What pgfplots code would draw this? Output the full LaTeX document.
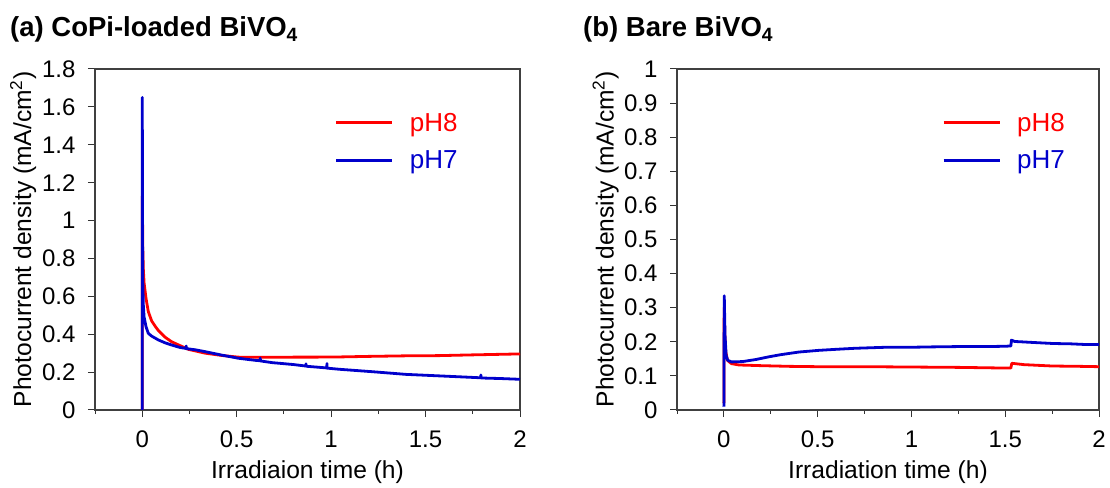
\documentclass[border=0pt]{standalone}
\usepackage{fontspec}
\setmainfont{Liberation Sans}
\usepackage{pgfplots}
\pgfplotsset{compat=1.18}
\definecolor{cred}{RGB}{255,0,0}
\definecolor{cblue}{RGB}{0,0,204}
\pgfplotsset{
  common/.style={
    scale only axis, anchor=south west,
    xmin=-0.25, xmax=2, ymin=0,
    xtick={0,0.5,1,1.5,2},
    xticklabels={0,0.5,1,1.5,2},
    minor xtick={-0.25,0.25,0.75,1.25,1.75},
    tick align=outside, tick pos=left,
    major tick length=7pt, minor tick length=4pt,
    every tick/.style={black!80, line width=1pt},
    axis line style={black!75, line width=1.3pt},
    tick label style={font=\fontsize{24}{28}\selectfont},
    xticklabel style={yshift=-10pt},
    yticklabel style={xshift=-9pt},
    label style={font=\fontsize{24.6}{29}\selectfont},
    /pgf/number format/assume math mode=true,
    xlabel style={at={(axis description cs:0.5,-0.182)}, anchor=center},
    ylabel style={at={(axis description cs:-0.169,0.5)}, anchor=center},
    ylabel={Photocurrent density (mA/cm\textsuperscript{2})},
    legend style={draw=none, fill=none, inner sep=0pt, anchor=north west,
      font=\fontsize{26}{30}\selectfont, row sep=14pt,
      nodes={inner sep=2pt},
      /tikz/every odd column/.append style={column sep=14pt}},
    legend cell align=left,
    legend image code/.code={\draw[#1, line width=3pt] (0pt,0pt) -- (56pt,0pt);},
  },
  cr/.style={draw=cred, line width=2.8pt, line join=round},
  cb/.style={draw=cblue, line width=2.8pt, line join=round},
}
\begin{document}
\begin{tikzpicture}
\useasboundingbox (0,0) rectangle (1110pt,487pt);
\node[anchor=base west, inner sep=0pt, font=\fontsize{27.5}{32}\selectfont\bfseries] at (10pt,450pt) {(a) CoPi-loaded BiVO\textsubscript{4}};
\node[anchor=base west, inner sep=0pt, font=\fontsize{27.5}{32}\selectfont\bfseries] at (583pt,450pt) {(b) Bare BiVO\textsubscript{4}};
\begin{axis}[common, at={(95pt,77pt)}, width=425pt, height=341pt,
  ymax=1.8, ytick={0,0.2,0.4,0.6,0.8,1,1.2,1.4,1.6,1.8},
  yticklabels={0,0.2,0.4,0.6,0.8,1,1.2,1.4,1.6,1.8},
  xlabel={Irradiaion time (h)},
  legend style={at={(axis description cs:0.564,0.877)}}]
\addplot[cr] coordinates {
(0,0) (0.0008,1.13) (0.003,0.85) (0.006,0.74) (0.01,0.67) (0.02,0.59)
(0.032,0.52) (0.05,0.47) (0.07,0.44) (0.085,0.42) (0.12,0.385) (0.156,0.36)
(0.2,0.34) (0.245,0.32) (0.333,0.30) (0.42,0.288) (0.51,0.279) (0.6,0.278)
(0.7,0.278) (0.8,0.279) (0.9,0.279) (1.04,0.28) (1.2,0.283) (1.4,0.286)
(1.57,0.287) (1.75,0.291) (1.9,0.294) (2.0,0.296)};
\addlegendentry{\textcolor{cred}{pH8}}
\addplot[cb] coordinates {
(0,0) (0.0004,1.65) (0.0015,0.95) (0.003,0.68) (0.006,0.55) (0.01,0.49)
(0.02,0.44) (0.032,0.405) (0.05,0.39) (0.085,0.37) (0.12,0.355) (0.156,0.343)
(0.2,0.33) (0.232,0.325) (0.233,0.338) (0.234,0.324) (0.28,0.318) (0.333,0.308)
(0.42,0.29) (0.51,0.273) (0.6,0.262) (0.624,0.26) (0.625,0.274) (0.626,0.259)
(0.688,0.25) (0.8,0.24) (0.866,0.232) (0.867,0.244) (0.868,0.231)
(0.977,0.222) (0.978,0.245) (0.979,0.221) (1.043,0.215) (1.22,0.202)
(1.397,0.188) (1.574,0.18) (1.75,0.172) (1.792,0.17) (1.793,0.185) (1.794,0.169)
(1.9,0.166) (2.0,0.162)};
\addlegendentry{\textcolor{cblue}{pH7}}
\end{axis}
\begin{axis}[common, at={(677pt,77pt)}, width=422pt, height=341pt,
  ymax=1, ytick={0,0.1,0.2,0.3,0.4,0.5,0.6,0.7,0.8,0.9,1},
  yticklabels={0,0.1,0.2,0.3,0.4,0.5,0.6,0.7,0.8,0.9,1},
  xlabel={Irradiation time (h)},
  legend style={at={(axis description cs:0.628,0.877)}}]
\addplot[cr] coordinates {
(0,0.02) (0.0015,0.30) (0.005,0.22) (0.01,0.17) (0.02,0.145) (0.04,0.136)
(0.08,0.132) (0.2,0.13) (0.35,0.128) (0.5,0.127) (0.75,0.127) (1.0,0.126)
(1.25,0.125) (1.5,0.123) (1.53,0.123) (1.535,0.137) (1.6,0.133) (1.75,0.129)
(1.9,0.128) (2.0,0.127)};
\addlegendentry{\textcolor{cred}{pH8}}
\addplot[cb] coordinates {
(0,0.01) (0.002,0.335) (0.006,0.22) (0.012,0.16) (0.02,0.146) (0.04,0.141)
(0.1,0.142) (0.17,0.148) (0.24,0.156) (0.3,0.162) (0.4,0.17) (0.508,0.175)
(0.6,0.178) (0.7,0.181) (0.865,0.184) (1.0,0.184) (1.1,0.185) (1.25,0.186)
(1.4,0.186) (1.506,0.187) (1.53,0.188) (1.533,0.205) (1.55,0.201)
(1.65,0.198) (1.755,0.195) (1.85,0.194) (1.93,0.192) (2.0,0.192)};
\addlegendentry{\textcolor{cblue}{pH7}}
\end{axis}
\end{tikzpicture}
\end{document}
